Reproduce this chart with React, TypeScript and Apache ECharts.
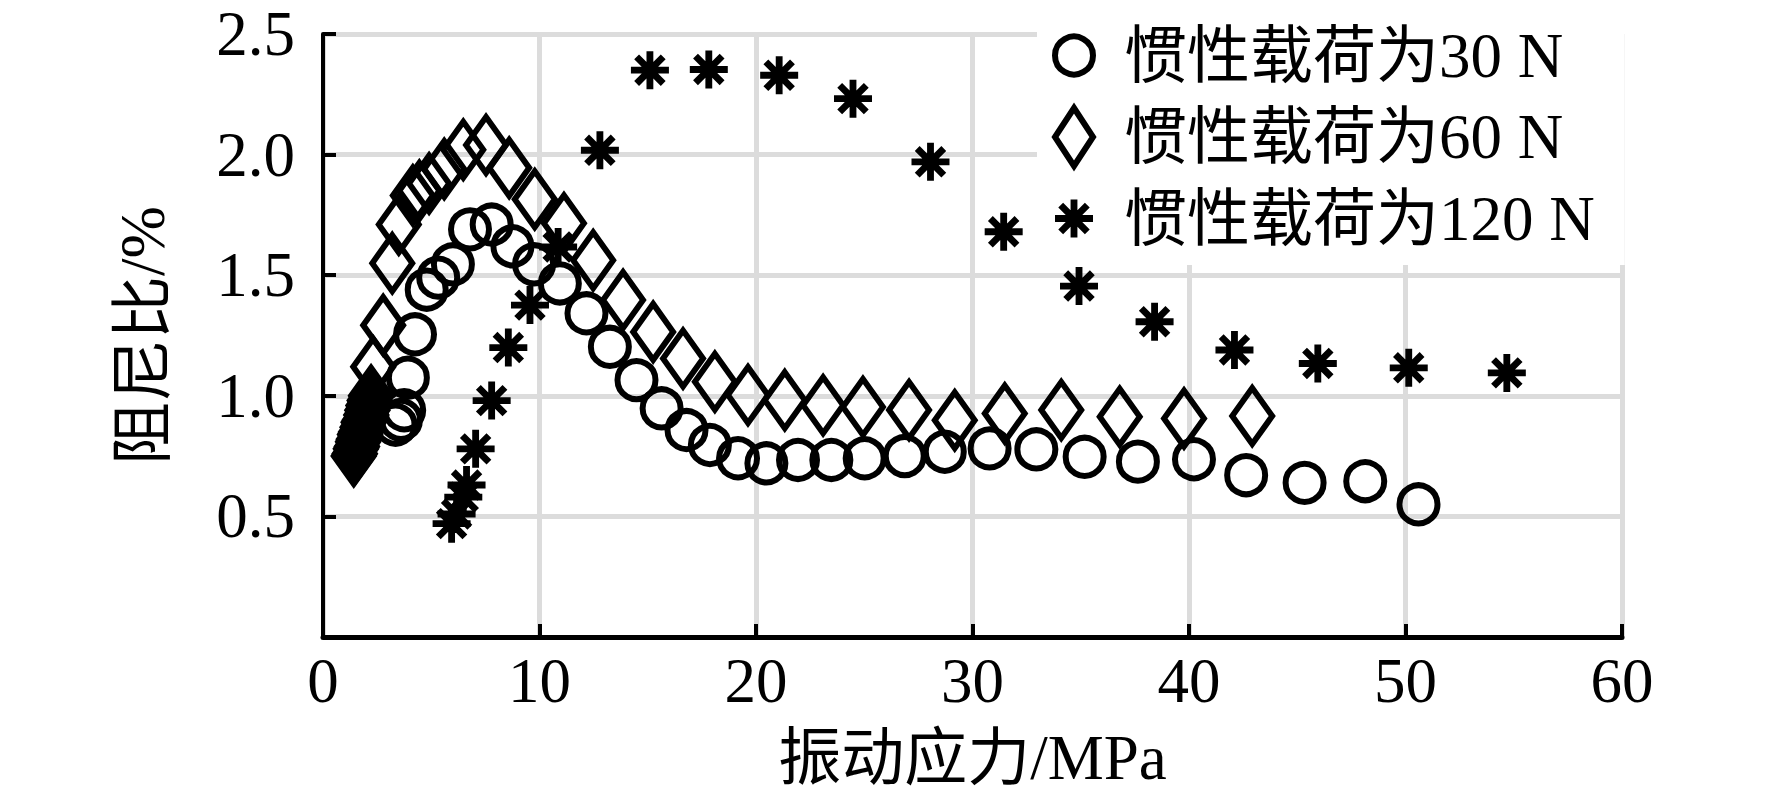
import React, { useEffect, useRef } from "react";
import * as echarts from "echarts";

// x axis (振动应力/MPa) and y axis (阻尼比/%) ticks
const xTickValues = [0, 10, 20, 30, 40, 50, 60];
const yTickValues = [0, 0.5, 1.0, 1.5, 2.0, 2.5];

const seriesNames = ["惯性载荷为30 N", "惯性载荷为60 N", "惯性载荷为120 N"];

// 惯性载荷为30 N (circles)
const load30X = [3.35, 3.6, 3.75, 3.92, 4.25, 4.79, 5.32, 6.0, 6.79, 7.79, 8.75, 9.75, 10.94, 12.17, 13.25, 14.48, 15.64, 16.79, 17.87, 19.17, 20.48, 21.94, 23.48, 25.02, 26.87, 28.72, 30.79, 32.95, 35.18, 37.64, 40.23, 42.64, 45.34, 48.14, 50.6];
const load30Y = [0.88, 0.9, 0.94, 1.075, 1.255, 1.44, 1.49, 1.545, 1.69, 1.71, 1.62, 1.545, 1.466, 1.342, 1.203, 1.065, 0.948, 0.858, 0.796, 0.741, 0.72, 0.734, 0.734, 0.741, 0.75, 0.768, 0.782, 0.778, 0.747, 0.727, 0.737, 0.671, 0.639, 0.646, 0.55];

// 惯性载荷为60 N (diamonds)
const load60X = [1.42, 1.47, 1.52, 1.57, 1.62, 1.66, 1.71, 1.76, 1.83, 1.88, 1.94, 2.0, 2.05, 2.1, 2.16, 2.22, 2.32, 2.78, 3.2, 3.5, 4.15, 4.45, 4.9, 5.6, 6.48, 7.53, 8.6, 9.78, 11.13, 12.48, 13.86, 15.25, 16.63, 18.1, 19.63, 21.33, 23.1, 24.94, 27.07, 29.18, 31.49, 34.1, 36.8, 39.77, 42.92];
const load60Y = [0.75, 0.76, 0.78, 0.79, 0.81, 0.82, 0.84, 0.85, 0.87, 0.89, 0.9, 0.92, 0.94, 0.96, 0.98, 1.0, 1.12, 1.293, 1.55, 1.71, 1.83, 1.85, 1.88, 1.94, 2.02, 2.04, 1.945, 1.815, 1.715, 1.562, 1.397, 1.265, 1.155, 1.058, 1.003, 0.982, 0.961, 0.954, 0.941, 0.899, 0.927, 0.941, 0.913, 0.906, 0.916];

// 惯性载荷为120 N (asterisks)
const load120X = [5.94, 6.17, 6.48, 6.63, 7.05, 7.79, 8.56, 9.56, 10.86, 12.79, 15.1, 17.82, 21.07, 24.48, 28.06, 31.44, 34.92, 38.41, 42.1, 45.95, 50.15, 54.68];
const load120Y = [0.47, 0.51, 0.58, 0.63, 0.78, 0.98, 1.2, 1.376, 1.617, 2.018, 2.35, 2.353, 2.329, 2.232, 1.97, 1.68, 1.455, 1.307, 1.19, 1.134, 1.116, 1.095];

const starPath =
  "path://M41 0H59V100H41Z M0 41H100V59H0Z M21.36 8.64L91.36 78.64L78.64 91.36L8.64 21.36Z M78.64 8.64L91.36 21.36L21.36 91.36L8.64 78.64Z";

const pairs = (xs: number[], ys: number[]) => xs.map((x, i) => [x, ys[i]]);

const FONT = "'Liberation Serif', 'Noto Sans CJK SC', serif";
const STROKE = 6;

export default function App() {
  const ref = useRef<HTMLDivElement>(null);

  useEffect(() => {
    if (!ref.current) return;
    const chart = echarts.init(ref.current, undefined, { renderer: "svg" });
    const gridColor = "#dcdcdc";
    chart.setOption({
      animation: false,
      backgroundColor: "#ffffff",
      textStyle: { fontFamily: FONT, color: "#000" },
      grid: { left: 323, right: 150, top: 34, bottom: 164, containLabel: false },
      xAxis: {
        type: "value",
        min: xTickValues[0],
        max: xTickValues[xTickValues.length - 1],
        interval: 10,
        name: "振动应力/MPa",
        nameLocation: "middle",
        nameGap: 89,
        nameTextStyle: { fontFamily: FONT, fontSize: 63, color: "#000" },
        axisLine: { show: true, lineStyle: { color: "#000", width: 5 } },
        axisTick: { show: true, inside: true, length: 13, lineStyle: { color: "#000", width: 4 } },
        axisLabel: { fontFamily: FONT, fontSize: 63, color: "#000", margin: 12 },
        splitLine: { show: true, lineStyle: { color: gridColor, width: 5 } },
      },
      yAxis: {
        type: "value",
        min: yTickValues[0],
        max: yTickValues[yTickValues.length - 1],
        interval: 0.5,
        name: "阻尼比/%",
        nameLocation: "middle",
        nameGap: 149,
        nameTextStyle: { fontFamily: FONT, fontSize: 63, color: "#000" },
        axisLine: { show: true, lineStyle: { color: "#000", width: 4 } },
        axisTick: { show: true, inside: true, length: 13, lineStyle: { color: "#000", width: 4 } },
        axisLabel: {
          fontFamily: FONT,
          fontSize: 63,
          color: "#000",
          margin: 28,
          formatter: (v: number) => (v === 0 ? "" : v.toFixed(1)),
        },
        splitLine: { show: true, lineStyle: { color: gridColor, width: 5 } },
      },
      legend: {
        orient: "vertical",
        left: 1037,
        top: 10,
        padding: [14, 30, 15, 15],
        backgroundColor: "#ffffff",
        itemWidth: 38,
        itemHeight: 58,
        itemGap: 18,
        selectedMode: false,
        symbolKeepAspect: true,
        textStyle: { fontFamily: FONT, fontSize: 63, lineHeight: 63, color: "#000", padding: [0, 0, 0, 26] },
        data: [
          { name: seriesNames[0], itemStyle: { borderWidth: STROKE, opacity: 1 } },
          { name: seriesNames[1], itemStyle: { borderWidth: STROKE, opacity: 1 } },
          { name: seriesNames[2], itemStyle: { borderWidth: 0, opacity: 1 } },
        ],
      },
      series: [
        {
          name: seriesNames[0],
          type: "scatter",
          symbol: "circle",
          symbolSize: 38,
          itemStyle: { color: "transparent", borderColor: "#000", borderWidth: STROKE, opacity: 1 },
          emphasis: { disabled: true },
          data: pairs(load30X, load30Y),
        },
        {
          name: seriesNames[1],
          type: "scatter",
          symbol: "diamond",
          symbolSize: [40, 56],
          itemStyle: { color: "transparent", borderColor: "#000", borderWidth: STROKE, opacity: 1 },
          emphasis: { disabled: true },
          data: pairs(load60X, load60Y),
        },
        {
          name: seriesNames[2],
          type: "scatter",
          symbol: starPath,
          symbolSize: 38,
          symbolKeepAspect: true,
          itemStyle: { color: "#000", borderColor: "#000", borderWidth: 0, opacity: 1 },
          emphasis: { disabled: true },
          data: pairs(load120X, load120Y),
        },
      ],
    });
    return () => chart.dispose();
  }, []);

  return (
    <div
      ref={ref}
      style={{ position: "fixed", left: 0, top: 0, width: 1772, height: 801, background: "#fff" }}
    />
  );
}
